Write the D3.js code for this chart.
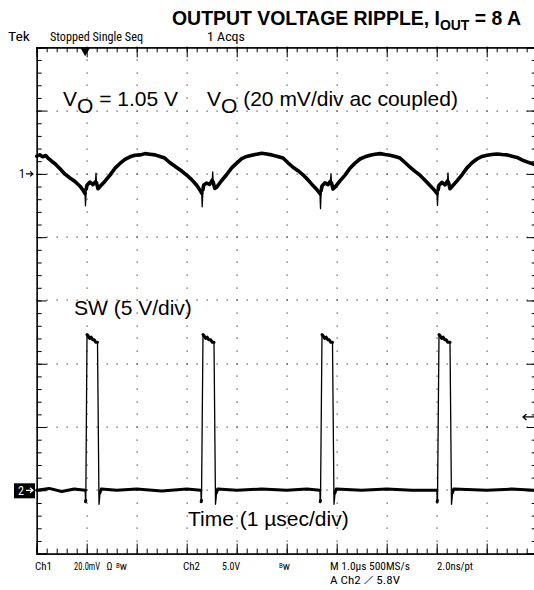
<!DOCTYPE html>
<html><head><meta charset="utf-8">
<script src="https://cdn.jsdelivr.net/npm/d3@7"></script>
<style>body{margin:0;background:#fff}svg{display:block}</style>
</head><body>
<svg id="c" width="534" height="590"></svg>
<script>
// ---- data (time in µs, 1 µs/div) ----
const voutTime = [0.00,0.06,0.12,0.18,0.226,0.30,0.366,0.466,0.566,0.666,0.766,0.866,0.926,0.966,0.976,0.99,1.006,1.066,1.126,1.176,1.186,1.196,1.226,1.266,1.366,1.466,1.566,1.666,1.766,1.866,1.966,2.066,2.166,2.266,2.366,2.466,
 2.56,2.66,2.80,2.90,3.00,3.10,3.20,3.26,3.30,3.31,3.325,3.34,3.40,3.46,3.51,3.52,3.53,3.56,3.60,3.70,3.80,3.90,4.00,4.10,4.20,4.30,4.40,4.50,4.60,4.70,4.80,
 4.926,5.026,5.126,5.226,5.326,5.426,5.526,5.606,5.666,5.676,5.69,5.706,5.766,5.826,5.876,5.886,5.896,5.926,5.966,6.066,6.166,6.266,6.366,6.466,6.566,6.666,6.766,6.866,6.966,7.066,7.166,
 7.266,7.366,7.466,7.566,7.666,7.766,7.866,7.946,8.006,8.016,8.03,8.046,8.106,8.166,8.216,8.226,8.236,8.266,8.306,8.406,8.506,8.606,8.706,8.806,8.906,9.006,9.106,9.206,9.306,9.406,9.506,9.606,9.706,9.806,9.946];
const voutMv = [5.6,6.0,5.4,5.8,5.0,4.0,3.2,1.6,-0.1,-1.3,-2.4,-3.9,-5.1,-6.2,-10.1,-4.8,-3.6,-2.6,-3.4,-2.5,0.2,-2.8,-4.7,-4.0,-2.3,-0.4,1.8,3.3,4.6,5.4,5.9,6.0,6.4,6.2,6.0,5.5,
 5.0,3.6,2.0,0.9,-0.4,-1.8,-3.6,-5.0,-6.1,-10.4,-5.0,-3.5,-2.9,-3.3,-2.0,0.6,-2.6,-4.6,-4.2,-2.1,-0.2,1.9,3.4,4.8,5.5,5.9,6.2,6.5,6.3,6.0,5.6,
 5.0,3.5,2.1,1.0,-0.3,-1.9,-3.7,-5.0,-6.3,-11.0,-5.2,-3.8,-2.8,-3.4,-2.3,0.1,-2.9,-4.8,-4.2,-2.2,-0.4,1.8,3.4,4.7,5.4,5.9,6.2,6.4,6.1,5.9,5.5,
 5.0,3.6,2.1,0.8,-0.4,-2.0,-3.7,-5.0,-6.2,-10.0,-5.0,-3.6,-2.7,-3.5,-2.2,0.3,-2.7,-4.7,-4.0,-2.2,-0.3,1.9,3.5,4.7,5.5,5.9,6.1,6.3,6.1,6.0,5.6,5.2,4.4,3.8,3.0];
const swTime = [0,0.25,0.5,0.75,0.97,0.976,0.982,1.006,1.03,1.06,1.09,1.12,1.15,1.18,1.216,1.246,1.256,1.266,1.29,1.6,2.0,2.5,3.0,
 3.284,3.29,3.296,3.326,3.35,3.38,3.41,3.44,3.48,3.51,3.546,3.576,3.586,3.596,3.62,4.0,4.5,5.0,5.4,
 5.664,5.67,5.676,5.706,5.73,5.76,5.79,5.82,5.85,5.88,5.916,5.946,5.956,5.966,5.99,6.5,7.0,7.5,
 8.004,8.01,8.016,8.046,8.07,8.10,8.13,8.16,8.19,8.22,8.266,8.296,8.306,8.316,8.34,9.0,9.5,9.946];
const swVolts = [0,0.15,-0.1,0.1,0,-0.9,-0.8,12.3,12.2,12.0,12.1,11.9,11.9,11.7,11.7,-1.1,-0.7,-0.2,0.1,0,0.1,-0.05,0.1,
 0,-0.9,-0.8,12.3,12.2,12.0,12.1,11.9,11.9,11.7,11.7,-1.1,-0.7,-0.2,0.1,0,0.1,0,0.1,
 0,-0.9,-0.8,12.3,12.2,12.0,12.1,11.9,11.9,11.7,11.7,-1.1,-0.7,-0.2,0.1,0,0.1,0,
 0,-0.9,-0.8,12.3,12.2,12.0,12.1,11.9,11.9,11.7,11.7,-1.1,-0.7,-0.2,0.1,0,0.1,0];
const timeDivs = d3.range(0, 11);          // 10 horizontal divisions
const ch1Divs = d3.range(-120, 41, 20);    // Ch1 20 mV/div, 8 divisions
const triggerTime = 0.99;
const triggerLevel = 5.8;                  // V on Ch2

// ---- layout ----
const svg = d3.select("#c");
const L = 36.7, R = 536.7, T = 47.3, B = 553.6;
const x = d3.scaleLinear().domain([0, 10]).range([L, R]);
const y1 = d3.scaleLinear().domain([-120, 40]).range([B, T]);   // Ch1 mV
const y2 = d3.scaleLinear().domain([-5, 35]).range([B, T]);     // Ch2 V
const INK = "#000";
const narrow = "'Liberation Sans Narrow','Roboto Condensed','DejaVu Sans Condensed',Arial,sans-serif";
const sans = "'Liberation Sans',Arial,Helvetica,sans-serif";

// graticule dots
const g = svg.append("g");
const minorX = d3.range(0, 10.001, 0.2);
const minorY = d3.range(-120, 40.001, 4);
timeDivs.slice(1, 10).forEach(t => {
  minorY.forEach(v => g.append("rect").attr("x", Math.round(x(t)) - 0.5).attr("y", Math.round(y1(v)) - 0.5)
    .attr("width", 1.2).attr("height", 1.2).attr("fill", "#444"));
});
ch1Divs.slice(1, 8).forEach(v => {
  minorX.forEach(t => g.append("rect").attr("x", Math.round(x(t)) - 0.5).attr("y", Math.round(y1(v)) - 0.5)
    .attr("width", 1.2).attr("height", 1.2).attr("fill", "#444"));
});

// border ticks via axes
function border(axisFn, scale, values, size, tr) {
  const a = axisFn(scale).tickValues(values).tickSize(size).tickFormat("");
  const gg = svg.append("g").attr("transform", tr).call(a);
  gg.select(".domain").attr("stroke", INK).attr("stroke-width", 1.2);
  gg.selectAll(".tick line").attr("stroke", INK).attr("stroke-width", 1);
  return gg;
}
border(d3.axisBottom, x, minorX, 5, `translate(0,${T})`);
border(d3.axisBottom, x, timeDivs, 10, `translate(0,${T})`);
border(d3.axisTop, x, minorX, 5, `translate(0,${B})`);
border(d3.axisTop, x, timeDivs, 10, `translate(0,${B})`);
border(d3.axisRight, y1, minorY, 5, `translate(${L},0)`);
border(d3.axisRight, y1, ch1Divs, 10, `translate(${L},0)`);
border(d3.axisLeft, y1, minorY, 5, `translate(${R},0)`);
border(d3.axisLeft, y1, ch1Divs, 10, `translate(${R},0)`);

// traces: thick for flat parts, thin for fast edges
function trace(ts, vs, ys, thick, thin) {
  const pts = ts.map((t, i) => [x(t), ys(vs[i])]);
  const runs = [];
  for (let i = 0; i < pts.length - 1; i++) {
    const dx = Math.abs(pts[i+1][0] - pts[i][0]), dy = Math.abs(pts[i+1][1] - pts[i][1]);
    const steep = dy > 3 * dx + 3;
    const last = runs[runs.length - 1];
    if (last && last.steep === steep) last.p.push(pts[i+1]);
    else runs.push({steep, p: [pts[i], pts[i+1]]});
  }
  const line = d3.line();
  runs.forEach(r => svg.append("path").attr("d", line(r.p)).attr("fill", "none")
    .attr("stroke", INK).attr("stroke-width", r.steep ? thin : thick)
    .attr("stroke-linejoin", "round").attr("stroke-linecap", "round"));
}
trace(voutTime, voutMv, y1, 3.6, 1.3);
trace(swTime, swVolts, y2, 3, 1.3);

// title
const title = svg.append("text").attr("x", 172).attr("y", 25).attr("font-family", sans)
  .attr("font-weight", "bold").attr("font-size", 19.5).attr("fill", INK)
  .attr("textLength", 349).attr("lengthAdjust", "spacingAndGlyphs");
title.append("tspan").text("OUTPUT VOLTAGE RIPPLE, I");
title.append("tspan").attr("font-size", 14).attr("dy", 5).text("OUT");
title.append("tspan").attr("dy", -5).text(" = 8 A");

// scope small text (condensed)
function small(txt, xx, yy, w, fs) {
  const t = svg.append("text").attr("x", xx).attr("y", yy).attr("font-family", narrow)
    .attr("font-size", fs || 12.5).attr("fill", INK).text(txt);
  if (w) t.attr("textLength", w).attr("lengthAdjust", "spacingAndGlyphs");
  return t;
}
small("Tek", 8, 41, 22);
small("Stopped  Single Seq", 50, 41, 93);
small("1 Acqs", 207, 41, 38);
// trigger position marker
svg.append("path").attr("d", d3.symbol(d3.symbolTriangle, 45)())
  .attr("transform", `translate(${x(triggerTime) - 1},${T + 3}) rotate(180)`).attr("fill", INK);

// annotations
function ann(parts, xx, yy) {
  const t = svg.append("text").attr("x", xx).attr("y", yy).attr("font-family", sans)
    .attr("font-size", 21).attr("fill", INK);
  parts.forEach(p => t.append("tspan").attr("dy", p[1] || null).text(p[0]));
  return t;
}
ann([["V"], ["O", 7], [" = 1.05 V", -7]], 63, 106);
ann([["V"], ["O", 7], [" (20 mV/div ac coupled)", -7]], 207, 106);
ann([["SW (5 V/div)"]], 74, 315);
ann([["Time (1 µsec/div)"]], 188, 526);

// channel markers
function arrowR(x0, yy, col) {
  svg.append("path").attr("d", `M${x0},${yy}H${x0 + 7}M${x0 + 4},${yy - 2.5}L${x0 + 7},${yy}L${x0 + 4},${yy + 2.5}`)
    .attr("stroke", col).attr("stroke-width", 1.2).attr("fill", "none");
}
svg.append("text").attr("x", 19).attr("y", y1(0) + 4).attr("font-family", narrow).attr("font-size", 12).text("1");
arrowR(26, y1(0), INK);
svg.append("rect").attr("x", 14).attr("y", y2(0) - 7).attr("width", 21).attr("height", 15).attr("fill", INK);
svg.append("text").attr("x", 18).attr("y", y2(0) + 4.5).attr("font-family", narrow).attr("font-size", 12).attr("fill", "#fff").text("2");
arrowR(26, y2(0), "#fff");
// trigger level arrow at right
const ty = y2(triggerLevel);
svg.append("path").attr("d", `M523,${ty}H534M526.5,${ty - 3}L523,${ty}L526.5,${ty + 3}`)
  .attr("stroke", INK).attr("stroke-width", 1.3).attr("fill", "none");

// footer
const FS = 11;
small("Ch1", 35, 570, 17, FS);
small("20.0mV", 74, 570, 26, FS);
small("Ω", 106.5, 570, 6, FS);
const bw1 = small("", 116, 570, null, FS); bw1.append("tspan").attr("font-size", 7).attr("dy", -2).text("B"); bw1.append("tspan").attr("dy", 2).text("w");
small("Ch2", 183, 570, 17, FS);
small("5.0V", 222, 570, 18, FS);
const bw2 = small("", 279, 570, null, FS); bw2.append("tspan").attr("font-size", 7).attr("dy", -2).text("B"); bw2.append("tspan").attr("dy", 2).text("w");
small("M 1.0µs 500MS/s", 330, 570, 80, FS);
small("2.0ns/pt", 437, 570, 36, FS);
small("A  Ch2  ⟋  5.8V", 330, 584, 70, FS);
</script>
</body></html>
